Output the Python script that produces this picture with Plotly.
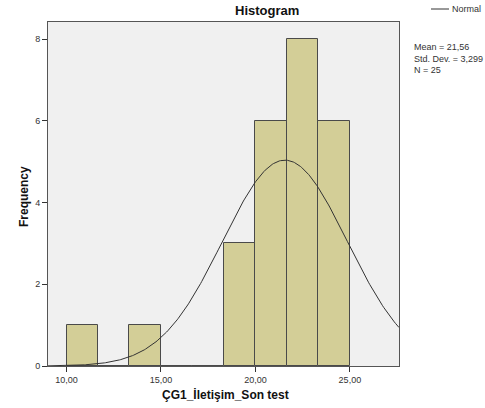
import numpy as np
import plotly.graph_objects as go

# Data
bin_starts = [10.0, 11.6667, 13.3333, 15.0, 16.6667, 18.3333, 20.0, 21.6667, 23.3333]
bin_counts = [1, 0, 1, 0, 0, 3, 6, 8, 6]
bin_width = 1.6667
mean_val = 21.56
sd_val = 3.299
n_val = 25
x_tick_vals = [10, 15, 20, 25]
x_tick_text = ["10,00", "15,00", "20,00", "25,00"]
y_tick_vals = [0, 2, 4, 6, 8]

x_range = [9.02, 27.6]
y_range = [0, 8.42]

fig = go.Figure()
fig.add_trace(go.Bar(
    x=[s + bin_width / 2 for s in bin_starts],
    y=bin_counts,
    width=bin_width,
    marker=dict(color="#d3ce97", line=dict(color="#4a4a4a", width=1)),
    showlegend=False,
    hoverinfo="skip",
))

xs = np.linspace(x_range[0], x_range[1], 300)
ys = n_val * bin_width / (sd_val * np.sqrt(2 * np.pi)) * np.exp(-0.5 * ((xs - mean_val) / sd_val) ** 2)
fig.add_trace(go.Scatter(x=xs, y=ys, mode="lines", line=dict(color="#333333", width=1),
                         showlegend=False, hoverinfo="skip"))

font_fam = "Liberation Sans, Arial, sans-serif"
fig.update_layout(
    width=485, height=408,
    margin=dict(l=48, r=86, t=22, b=42),
    paper_bgcolor="white",
    plot_bgcolor="#f0f0f0",
    bargap=0,
    font=dict(family=font_fam, size=9, color="#333333"),
    xaxis=dict(range=x_range, tickvals=x_tick_vals, ticktext=x_tick_text,
               showgrid=False, zeroline=False, showline=True, mirror=True,
               linecolor="#555555", linewidth=1, ticks="outside", ticklen=5,
               tickcolor="#333333", tickfont=dict(size=9, color="#333333")),
    yaxis=dict(range=y_range, tickvals=y_tick_vals,
               showgrid=False, zeroline=False, showline=True, mirror=True,
               linecolor="#555555", linewidth=1, ticks="outside", ticklen=5,
               tickcolor="#333333", tickfont=dict(size=9, color="#333333")),
)

anns = [
    dict(text="<b>Histogram</b>", x=267, y=11, font=dict(size=13, color="#111111")),
    dict(text="<b>ÇG1_İletişim_Son test</b>", x=225, y=394, font=dict(size=12, color="#111111")),
    dict(text="<b>Frequency</b>", x=24, y=196, font=dict(size=12, color="#111111"), textangle=-90),
    dict(text="Normal", x=466, y=9, font=dict(size=9, color="#333333")),
]
for a in anns:
    fig.add_annotation(text=a["text"], x=(a["x"] - 48) / 351, y=1 - (a["y"] - 22) / 344,
                       xref="paper", yref="paper", showarrow=False,
                       xanchor="center", yanchor="middle",
                       font=dict(family=font_fam, **a["font"]),
                       textangle=a.get("textangle", 0))

fig.add_annotation(text="Mean = 21,56<br>Std. Dev. = 3,299<br>N = 25",
                   x=(412 - 48) / 351, y=1 - (40 - 22) / 344, xref="paper", yref="paper",
                   showarrow=False, xanchor="left", yanchor="top", align="left",
                   font=dict(family=font_fam, size=9, color="#333333"))

fig.add_shape(type="line", xref="paper", yref="paper",
              x0=(431 - 48) / 351, x1=(449 - 48) / 351,
              y0=1 - (9 - 22) / 344, y1=1 - (9 - 22) / 344,
              line=dict(color="#333333", width=1))

fig.write_html("out.html")
